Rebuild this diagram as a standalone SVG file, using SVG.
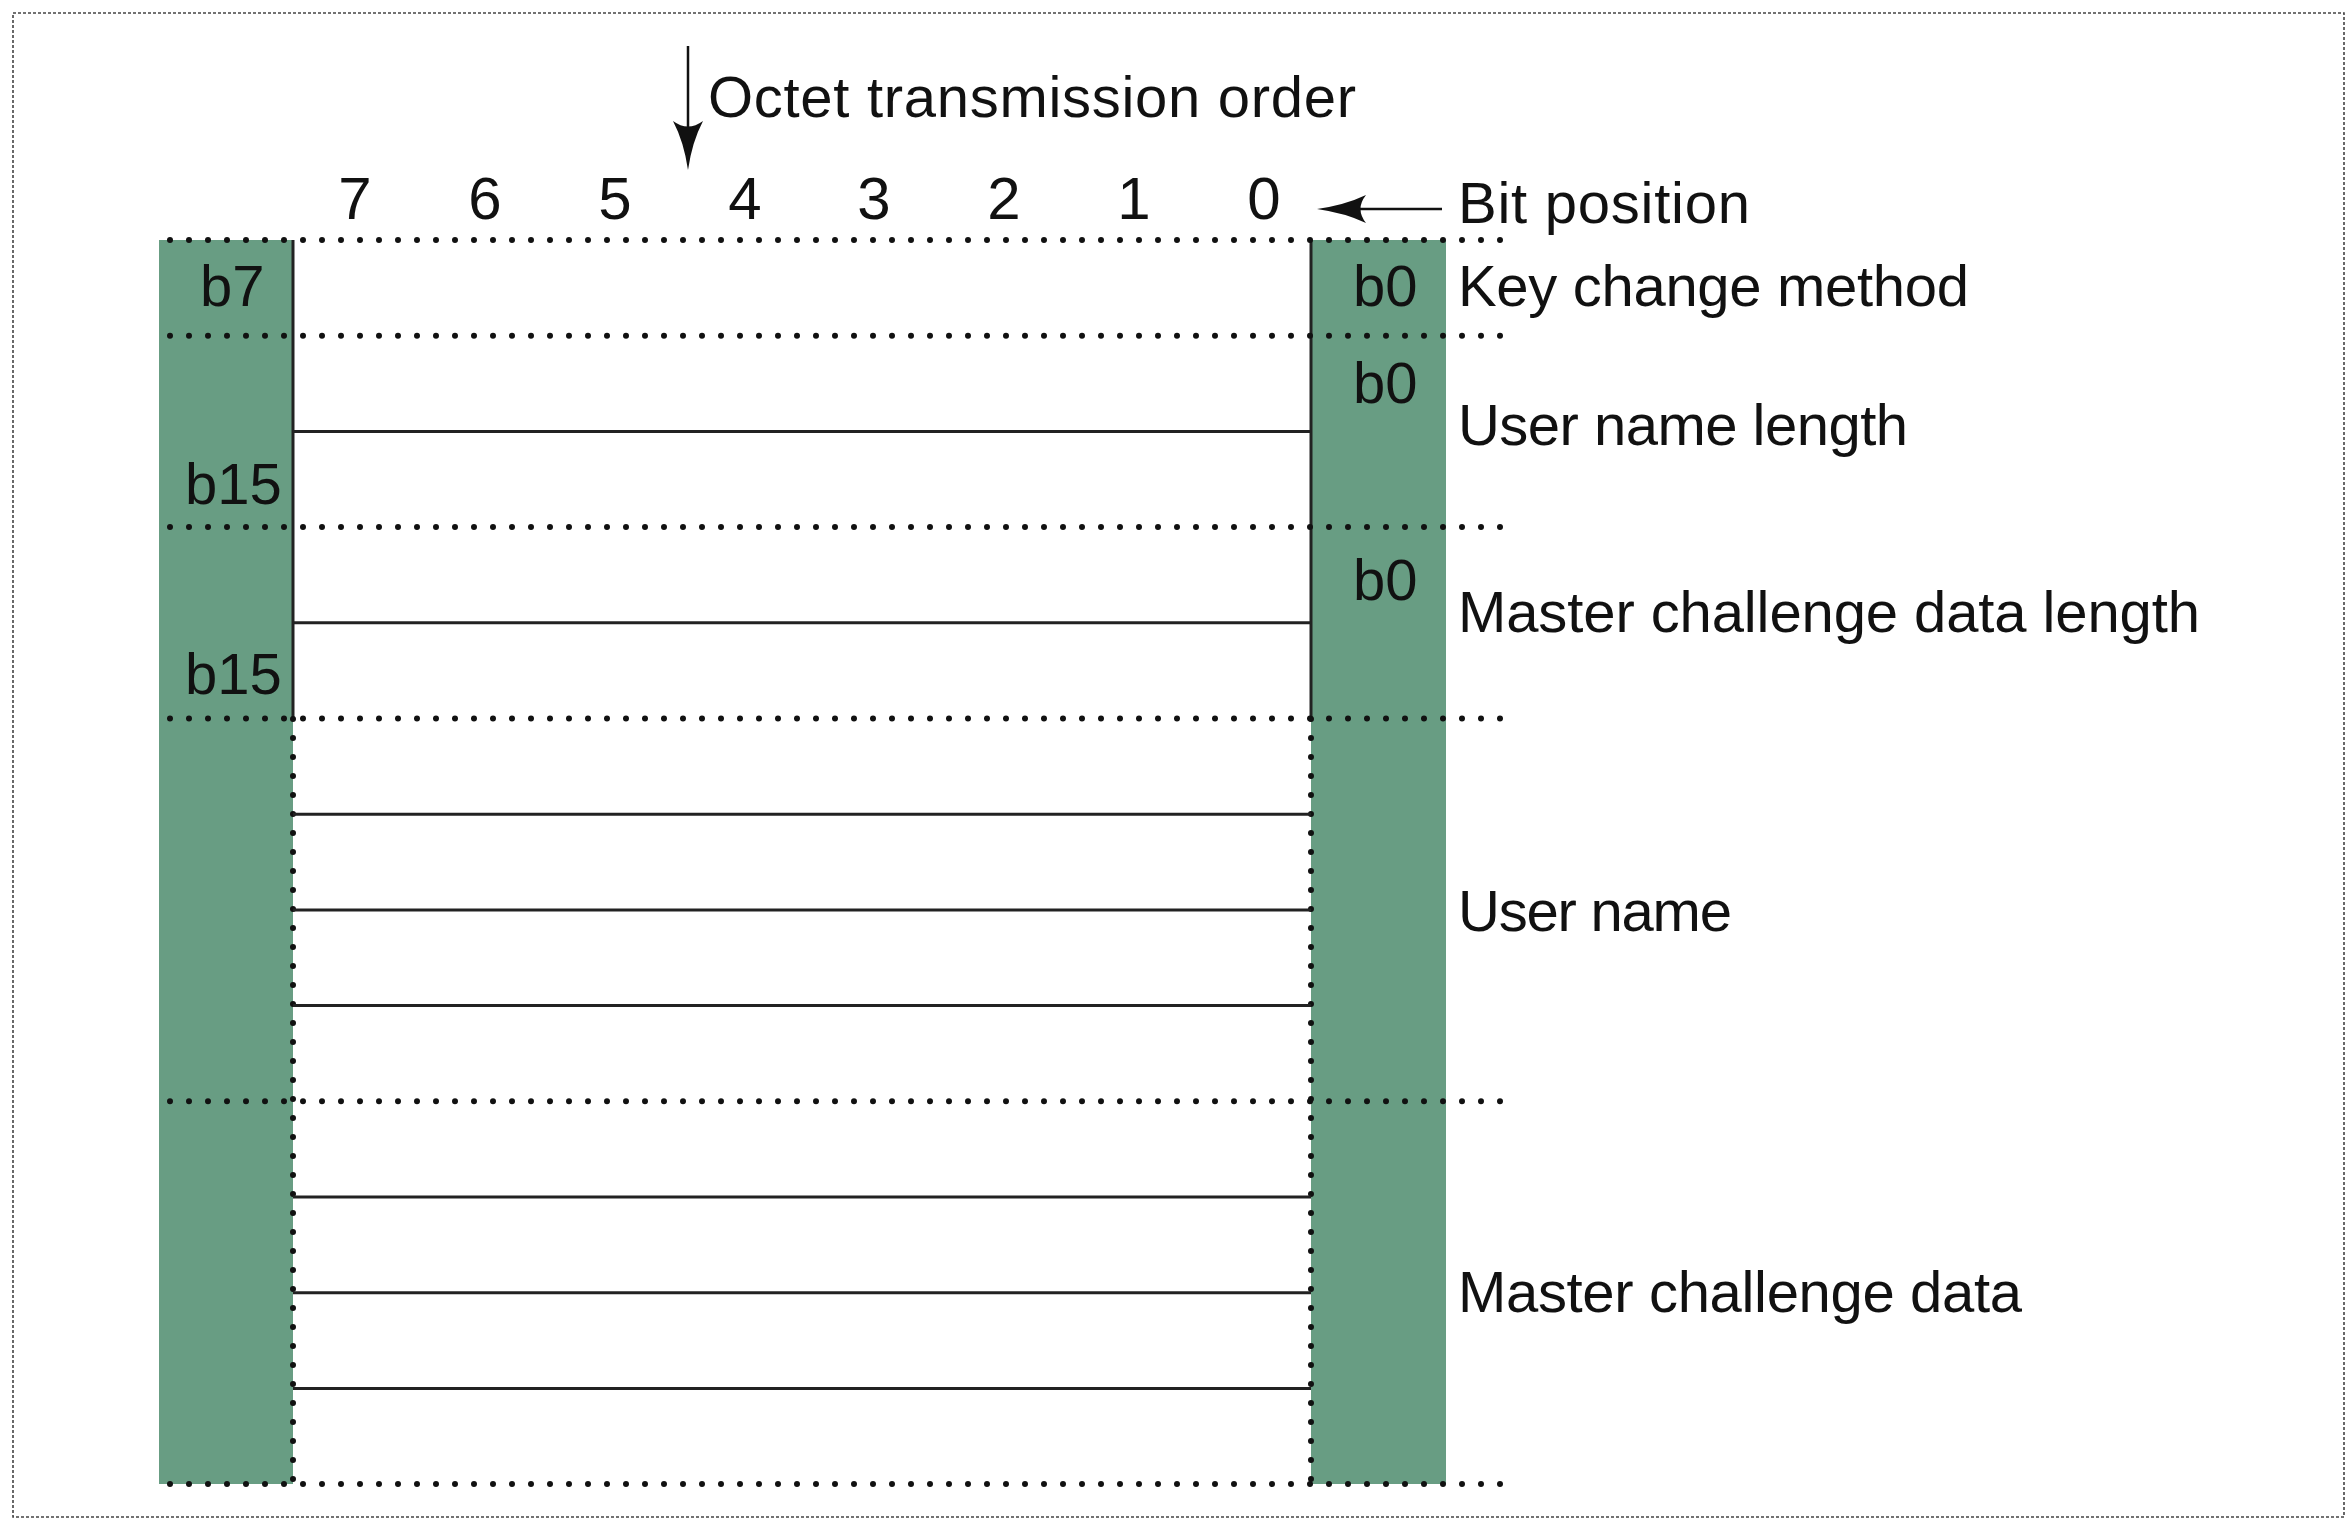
<svg xmlns="http://www.w3.org/2000/svg" width="2350" height="1518" viewBox="0 0 2350 1518">
<style>
.t{font-family:"Liberation Sans",Arial,sans-serif;font-size:58px;fill:#111}
.d{font-family:"Liberation Sans",Arial,sans-serif;font-size:60px;fill:#111;text-anchor:middle}
.dot{stroke:#111;stroke-width:6;stroke-linecap:round;stroke-dasharray:0 19;fill:none}
.sol{stroke:#222;stroke-width:3;fill:none}
.col{fill:#689d83}
.ln{stroke:#111;stroke-width:2.5;fill:none}
.ah{fill:#111}
</style>
<rect width="2350" height="1518" fill="#fff"/>
<rect x="13" y="13" width="2331" height="1504" fill="none" stroke="#444" stroke-width="1.6" stroke-dasharray="3 2"/>

<g id="columns">
<rect class="col" x="159" y="240" width="134" height="1244"/>
<rect class="col" x="1311" y="240" width="135" height="1244"/>
</g>

<g id="bit-positions">
<text class="d" x="355" y="219">7</text>
<text class="d" x="485" y="219">6</text>
<text class="d" x="615" y="219">5</text>
<text class="d" x="745" y="219">4</text>
<text class="d" x="874" y="219">3</text>
<text class="d" x="1004" y="219">2</text>
<text class="d" x="1134" y="219">1</text>
<text class="d" x="1264" y="219">0</text>
<text class="t" x="1458" y="223" textLength="292">Bit position</text>
</g>

<g id="octet-order">
<text class="t" x="708" y="117" textLength="648">Octet transmission order</text>
</g>

<g id="grid">
<line class="sol" x1="293" y1="240" x2="293" y2="719"/>
<line class="sol" x1="1311" y1="240" x2="1311" y2="719"/>
<line class="dot" x1="293" y1="719" x2="293" y2="1485"/>
<line class="dot" x1="1311" y1="719" x2="1311" y2="1485"/>
<line class="sol" x1="293" y1="431.4" x2="1311" y2="431.4"/>
<line class="sol" x1="293" y1="622.8" x2="1311" y2="622.8"/>
<line class="sol" x1="293" y1="814.2" x2="1311" y2="814.2"/>
<line class="sol" x1="293" y1="909.9" x2="1311" y2="909.9"/>
<line class="sol" x1="293" y1="1005.6" x2="1311" y2="1005.6"/>
<line class="sol" x1="293" y1="1197" x2="1311" y2="1197"/>
<line class="sol" x1="293" y1="1292.7" x2="1311" y2="1292.7"/>
<line class="sol" x1="293" y1="1388.4" x2="1311" y2="1388.4"/>
<line class="dot" x1="170" y1="240" x2="1501" y2="240"/>
<line class="dot" x1="170" y1="335.7" x2="1501" y2="335.7"/>
<line class="dot" x1="170" y1="527.1" x2="1501" y2="527.1"/>
<line class="dot" x1="170" y1="718.5" x2="1501" y2="718.5"/>
<line class="dot" x1="170" y1="1101.3" x2="1501" y2="1101.3"/>
<line class="dot" x1="170" y1="1484" x2="1501" y2="1484"/>
</g>

<g id="key-change-method">
<text class="t" x="200" y="306">b7</text>
<text class="t" x="1353" y="306">b0</text>
<text class="t" x="1458" y="306" textLength="511">Key change method</text>
</g>

<g id="user-name-length">
<text class="t" x="1353" y="403">b0</text>
<text class="t" x="185" y="504">b15</text>
<text class="t" x="1458" y="445" textLength="450">User name length</text>
</g>

<g id="master-challenge-data-length">
<text class="t" x="1353" y="600">b0</text>
<text class="t" x="185" y="694">b15</text>
<text class="t" x="1458" y="632" textLength="742">Master challenge data length</text>
</g>

<g id="user-name">
<text class="t" x="1458" y="931" textLength="274">User name</text>
</g>

<g id="master-challenge-data">
<text class="t" x="1458" y="1312" textLength="564">Master challenge data</text>
</g>

<g id="connectors">
<line class="ln" x1="688" y1="46" x2="688" y2="136"/>
<path class="ah" d="M688 170 Q684 142 673 121 Q688 132 703 121 Q692 142 688 170 Z"/>
<line class="ln" x1="1442" y1="209" x2="1354" y2="209"/>
<path class="ah" d="M1317 209 Q1345 205 1366 195 Q1355 209 1366 223 Q1345 213 1317 209 Z"/>
</g>
</svg>
